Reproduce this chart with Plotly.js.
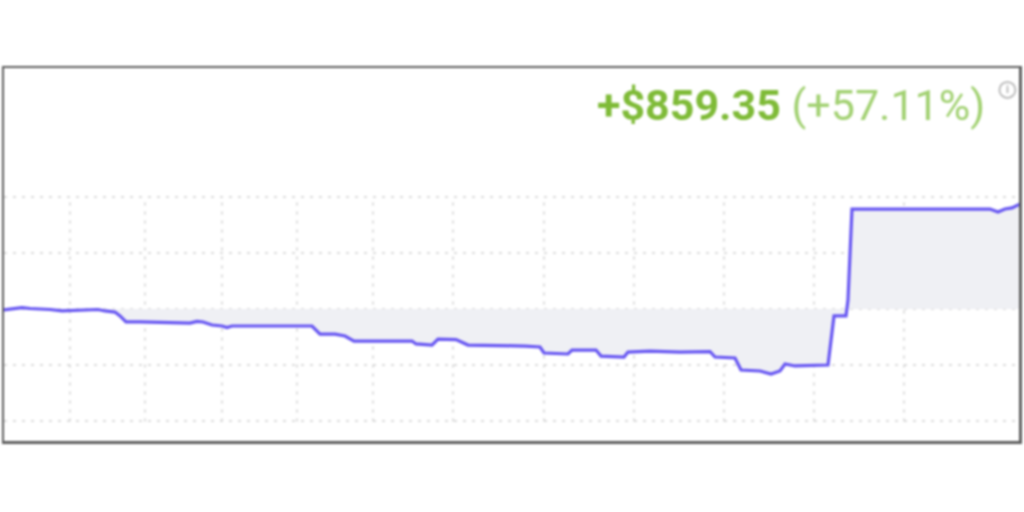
<!DOCTYPE html>
<html>
<head>
<meta charset="utf-8">
<script src="https://cdn.plot.ly/plotly-3.0.1.min.js"></script>
<style>
html,body{margin:0;padding:0;background:#fff;}
#chart{width:1024px;height:512px;filter:blur(0.9px);}
</style>
</head>
<body>
<div id="chart"></div>
<script>
const sessions = [0,7,13,19,27,37,47,59,67,77,95,102,112,117,123,137,187,194,200,209,219,224,229,294,309,317,332,342,351,409,413,429,435,453,465,522,537,541,565,569,593,598,621,625,647,677,707,712,732,738,757,768,777,782,792,825,827,831,843,845,849,987,995,1002,1009,1017];
const profit = [-8,0,4,12,4,0,-4,-16,-12,-8,-4,-16,-25,-57,-106,-106,-115,-102,-106,-131,-139,-151,-139,-139,-139,-205,-205,-221,-262,-262,-286,-295,-246,-250,-295,-303,-311,-360,-368,-336,-336,-385,-393,-352,-344,-352,-348,-393,-401,-499,-507,-532,-507,-450,-466,-458,-336,-57,-57,74,818,818,794,818,827,859.35];
const baselineX = [0,1017];
const baselineY = [0,0];
const gridX = [67,142,219,294,370,450,541,631,721,811,901];
const gridY = [-920,-460,0,460,920];
const amountLabel = "+$859.35";
const percentLabel = "(+57.11%)";

const traces = [
  {x: baselineX, y: baselineY, mode: "lines", line: {width: 0, color: "rgba(0,0,0,0)"}, hoverinfo: "skip", showlegend: false},
  {x: sessions, y: profit, mode: "lines", fill: "tonexty", fillcolor: "#eff0f4",
   line: {color: "#6655f2", width: 3.2}, showlegend: false}
];

const verticalGrid = gridX.map(v => ({
  type: "line", xref: "x", yref: "y", x0: v, x1: v,
  y0: gridY[0], y1: gridY[gridY.length - 1], layer: "between",
  line: {color: "#dcdcdc", width: 2, dash: "3px,6px"}
}));

const layout = {
  width: 1024, height: 512,
  margin: {l: 4, r: 5, t: 68, b: 71, pad: 0},
  paper_bgcolor: "#fff", plot_bgcolor: "#fff",
  showlegend: false,
  xaxis: {range: [1,1016], ticks: "", showticklabels: false, showgrid: false,
    zeroline: false, showline: true, mirror: true, linecolor: "#5e5e5e", linewidth: 2.5},
  yaxis: {range: [-1080,1972], tickmode: "array", tickvals: gridY, ticks: "", showticklabels: false,
    showgrid: true, gridcolor: "#dcdcdc", griddash: "3px,6px", gridwidth: 2,
    zeroline: false, showline: true, mirror: true, linecolor: "#5e5e5e", linewidth: 2.5},
  shapes: verticalGrid.concat([
    {type: "circle", xref: "paper", yref: "paper", xsizemode: "pixel", ysizemode: "pixel",
     xanchor: 0.9886, yanchor: 0.9413, x0: -8, x1: 8, y0: -8, y1: 8,
     line: {color: "#bdbdbd", width: 2}, fillcolor: "#fff"}
  ]),
  annotations: [
    {xref: "paper", yref: "paper", x: 0.9685, y: 0.9, xanchor: "right", yanchor: "middle", showarrow: false,
     text: "<b>" + amountLabel + "</b> <span style='color:#a2d172'>" + percentLabel + "</span>",
     font: {family: "Roboto, sans-serif", size: 43, color: "#7fbb38"}},
    {xref: "paper", yref: "paper", x: 0.9886, y: 0.9413, xanchor: "center", yanchor: "middle", showarrow: false,
     text: "<b>i</b>", font: {family: "Roboto, sans-serif", size: 11, color: "#b0b0b0"}}
  ]
};
Plotly.newPlot("chart", traces, layout, {displayModeBar: false, staticPlot: true});
</script>
</body>
</html>
